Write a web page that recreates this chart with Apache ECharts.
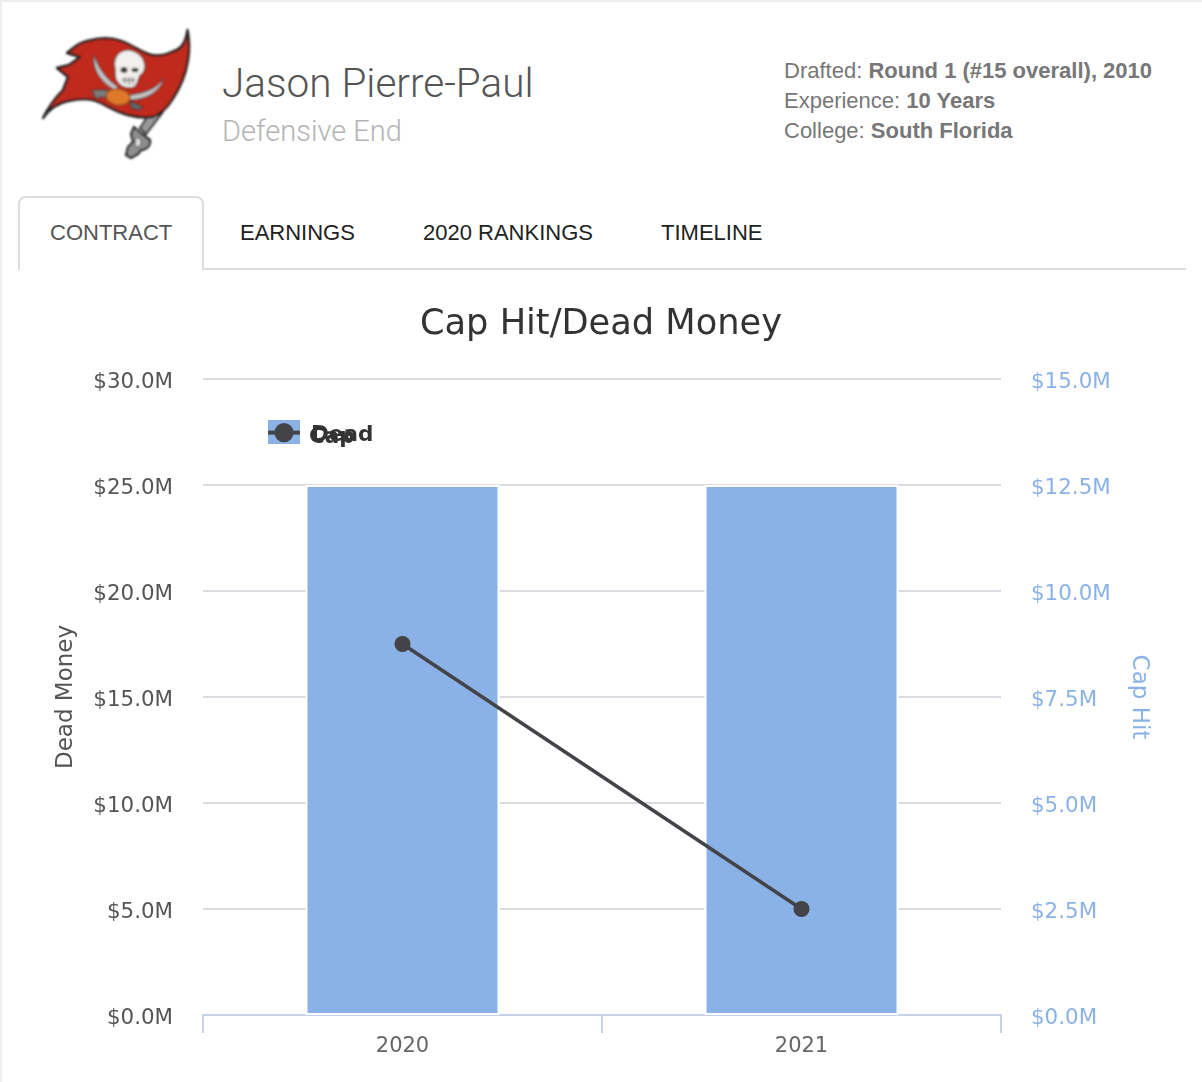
<!DOCTYPE html>
<html>
<head>
<meta charset="utf-8">
<script src="https://cdn.jsdelivr.net/npm/echarts@6/dist/echarts.min.js"></script>
<style>
html,body{margin:0;padding:0;background:#fff;width:1202px;height:1082px;overflow:hidden;font-family:"Liberation Sans",sans-serif;}
#frameT{position:absolute;left:0;top:0;width:1202px;height:2px;background:#eeeeee;}
#frameL{position:absolute;left:0;top:0;width:2px;height:1082px;background:#eeeeee;}
.t{position:absolute;white-space:nowrap;line-height:1;}
#tabActive{position:absolute;left:18px;top:196px;width:182px;height:72px;border:2px solid #dddddd;border-bottom:none;border-radius:8px 8px 0 0;background:#fff;}
#tabLine{position:absolute;left:202px;top:268px;width:984px;height:2px;background:#dddddd;}
#logo{position:absolute;left:0;top:0;}
#chart{position:absolute;left:0;top:280px;width:1202px;height:802px;}
b{font-weight:bold;}
</style>
</head>
<body>
<div id="frameT"></div><div id="frameL"></div>
<svg id="logo" width="220" height="180" viewBox="0 0 220 180">
  <defs><filter id="bl" x="-10%" y="-10%" width="120%" height="120%"><feGaussianBlur stdDeviation="0.8"/></filter></defs>
  <g filter="url(#bl)">
    <path d="M150 113 L162 113 L146 134 L140 128 Z" fill="#9a9a9a" stroke="#262626" stroke-width="2"/>
    <path d="M134 127 L142 134 L150 140 C151 146 146 150 141 150 L138 154 L131 158 L126 155 L128 147 L133 142 L131 134 Z" fill="#8f8f8f" stroke="#262626" stroke-width="2.2" stroke-linejoin="round"/>
    <path d="M137 137 C142 139 143 145 138 147 C134 147 134 141 137 137 Z" fill="#dcdcdc" stroke="#333" stroke-width="1"/>
    <path d="M187.5 30 C186 42 181 49 174 51 C166 55 158 56 152 55 C142 53 134 46 124 42 C114 38 102 37 92 40 C86 41 80 43 76 46 C72 49 69 51 67 53 L80 57 L69 65 L57 68 L68 77 L63 90 C58 95 50 104 43 118 C50 108 58 103 68 101 C78 99 88 98 96 101 C106 105 116 112 128 115 C136 117 146 118 153 117 C162 113 168 107 172 100 C180 88 186 74 188 60 C190 48 189 38 187.5 30 Z" fill="#bf2c1f" stroke="#1e1e1e" stroke-width="2.4" stroke-linejoin="round"/>
    <path d="M94 55 C92 68 100 82 115 90 L118 87 C106 79 98 68 94 55 Z" fill="#c4c4c4" stroke="#3a3a3a" stroke-width="1"/>
    <path d="M164 78 C158 88 146 93 130 95 L129 100 C146 100 160 92 164 78 Z" fill="#c4c4c4" stroke="#3a3a3a" stroke-width="1"/>
    <path d="M92 90 L108 90 L112 98 L100 97 L96 99 Z" fill="#7c7c7c" stroke="#2a2a2a" stroke-width="1"/>
    <path d="M130 101 L143 107 L139 110 L131 108 Z" fill="#666" stroke="#2a2a2a" stroke-width="1"/>
    <path d="M129 50 C118 50 113 59 115 68 C116 72 114 78 118 82 C121 87 128 89 134 87 C138 84 138 78 140 75 C147 72 148 54 129 50 Z" fill="#f2f0ee" stroke="#3a3a3a" stroke-width="1"/>
    <ellipse cx="124" cy="70" rx="3.5" ry="3" fill="#3a3a3a"/>
    <ellipse cx="135" cy="70" rx="3.5" ry="2.2" fill="#3a3a3a"/>
    <path d="M121 80 L135 80 M125 84 L125 77 M129 85 L129 77 M133 84 L133 77" stroke="#555" stroke-width="1" fill="none"/>
    <ellipse cx="118" cy="97" rx="12" ry="8" transform="rotate(8 118 97)" fill="#e0782a" stroke="#8a4a16" stroke-width="1"/>
  </g>
</svg>
<div class="t" style="left:222px;top:63px;font-size:40.5px;color:#555555;font-family:Roboto,sans-serif;font-weight:300;">Jason Pierre-Paul</div>
<div class="t" style="left:222px;top:117px;font-size:29px;color:#b4b4b4;font-family:Roboto,sans-serif;font-weight:300;">Defensive End</div>
<div class="t" style="left:784px;top:60px;font-size:22px;color:#777777;">Drafted: <b>Round 1 (#15 overall), 2010</b></div>
<div class="t" style="left:784px;top:90px;font-size:22px;color:#777777;">Experience: <b>10 Years</b></div>
<div class="t" style="left:784px;top:120px;font-size:22px;color:#777777;">College: <b>South Florida</b></div>
<div id="tabActive"></div><div id="tabLine"></div>
<div class="t" style="left:50px;top:222px;font-size:22px;color:#555555;">CONTRACT</div>
<div class="t" style="left:240px;top:222px;font-size:22px;color:#222222;">EARNINGS</div>
<div class="t" style="left:423px;top:222px;font-size:22px;color:#222222;">2020 RANKINGS</div>
<div class="t" style="left:661px;top:222px;font-size:22px;color:#222222;">TIMELINE</div>
<div id="chart"></div>
<script>
var titleText = 'Cap Hit/Dead Money';
var years = ['2020', '2021'];
var capHit = [12.5, 12.5];
var deadMoney = [17.5, 5.0];
var fmt = function (v) { return '$' + v.toFixed(1) + 'M'; };
var font = '"DejaVu Sans", sans-serif';
var capRich = { a: { fontFamily: font, fontSize: 21.5, fontWeight: 'bold', color: '#333333', padding: [10, 0, 0, 0] } };
var deadRich = { a: { fontFamily: font, fontSize: 21.5, fontWeight: 'bold', color: '#333333', padding: [6, 0, 0, 0] } };
var legendLabel = function (name) { return '{a|' + name + '}'; };
var chart = echarts.init(document.getElementById('chart'), null, { renderer: 'canvas' });
chart.setOption({
  animation: false,
  textStyle: { fontFamily: font },
  title: { text: titleText, left: 'center', top: 22,
    textStyle: { fontFamily: font, fontSize: 35.2, fontWeight: 'normal', color: '#333333' } },
  legend: [
    { data: [{ name: 'Cap', icon: 'rect', itemStyle: { borderWidth: 0 } }], left: 268, top: 140, itemWidth: 32, itemHeight: 24, itemGap: 0, padding: 0,
      formatter: legendLabel,
      textStyle: { padding: [0,0,0,4], rich: capRich } },
    { data: ['Dead'], left: 266, top: 143, itemWidth: 32, itemHeight: 24, itemGap: 0, padding: 0,
      lineStyle: { width: 4 }, formatter: legendLabel,
      textStyle: { padding: [0,0,0,6], rich: deadRich } }
  ],
  grid: { left: 203, right: 201, top: 99, bottom: 67, containLabel: false },
  xAxis: { type: 'category', data: years,
    axisLine: { lineStyle: { color: '#c5d2e8', width: 2 } },
    axisTick: { show: true, length: 18, alignWithLabel: false, lineStyle: { color: '#c5d2e8', width: 2 } },
    axisLabel: { color: '#666666', fontSize: 21, margin: 21 } },
  yAxis: [
    { type: 'value', min: 0, max: 30, interval: 5, position: 'left',
      name: 'Dead Money', nameLocation: 'middle', nameGap: 125, nameRotate: 90,
      nameTextStyle: { color: '#555555', fontSize: 23 },
      axisLine: { show: false }, axisTick: { show: false },
      axisLabel: { formatter: fmt, color: '#555555', fontSize: 21.4, margin: 30, verticalAlign: 'top', lineHeight: 6 },
      splitLine: { lineStyle: { color: '#d8dce0', width: 2 } } },
    { type: 'value', min: 0, max: 15, interval: 2.5, position: 'right',
      name: 'Cap Hit', nameLocation: 'middle', nameGap: 126, nameRotate: -90,
      nameTextStyle: { color: '#8ab2e6', fontSize: 23 },
      axisLine: { show: false }, axisTick: { show: false },
      axisLabel: { formatter: fmt, color: '#8ab2e6', fontSize: 21.4, margin: 30, verticalAlign: 'top', lineHeight: 6 },
      splitLine: { show: false } }
  ],
  series: [
    { name: 'Cap', type: 'bar', yAxisIndex: 1, data: capHit, barWidth: 194,
      itemStyle: { color: '#8ab2e6', borderColor: '#ffffff', borderWidth: 2 } },
    { name: 'Dead', type: 'line', yAxisIndex: 0, data: deadMoney, symbol: 'circle', symbolSize: 16,
      z: 5, lineStyle: { color: '#434348', width: 3.5 }, itemStyle: { color: '#434348' } }
  ]
});
</script>
</body>
</html>
